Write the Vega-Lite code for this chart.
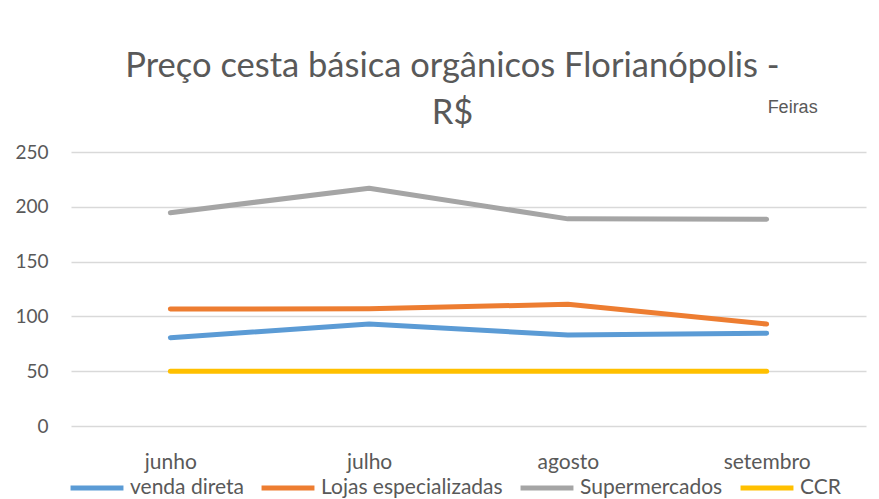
{
  "$schema": "https://vega.github.io/schema/vega-lite/v6.json",
  "autosize": "none",
  "width": 795,
  "height": 274,
  "padding": {"left": 71, "top": 152, "right": 13, "bottom": 73},
  "background": "white",
  "config": {
    "view": {"stroke": null},
    "font": "Lato"
  },
  "title": {
    "text": ["Preço cesta básica orgânicos Florianópolis -", "R$"],
    "font": "Lato",
    "fontSize": 34.5,
    "fontWeight": "normal",
    "color": "#595959",
    "lineHeight": 47,
    "anchor": "middle",
    "dx": -16,
    "dy": 58,
    "offset": 26
  },
  "datasets": {
    "prices": [
      {"mes": "junho", "serie": "venda direta", "preco": 80.6},
      {"mes": "julho", "serie": "venda direta", "preco": 93},
      {"mes": "agosto", "serie": "venda direta", "preco": 83},
      {"mes": "setembro", "serie": "venda direta", "preco": 84.6},
      {"mes": "junho", "serie": "Lojas especializadas", "preco": 106.7},
      {"mes": "julho", "serie": "Lojas especializadas", "preco": 107},
      {"mes": "agosto", "serie": "Lojas especializadas", "preco": 111},
      {"mes": "setembro", "serie": "Lojas especializadas", "preco": 93},
      {"mes": "junho", "serie": "Supermercados", "preco": 194.6},
      {"mes": "julho", "serie": "Supermercados", "preco": 217},
      {"mes": "agosto", "serie": "Supermercados", "preco": 189},
      {"mes": "setembro", "serie": "Supermercados", "preco": 188.6},
      {"mes": "junho", "serie": "CCR", "preco": 50},
      {"mes": "julho", "serie": "CCR", "preco": 50},
      {"mes": "agosto", "serie": "CCR", "preco": 50},
      {"mes": "setembro", "serie": "CCR", "preco": 50}
    ],
    "note": [{"mes": "setembro", "preco": 290, "label": "Feiras"}]
  },
  "layer": [
    {
      "data": {"name": "prices"},
      "mark": {"type": "line", "strokeWidth": 5, "strokeCap": "round", "strokeJoin": "round"},
      "encoding": {
        "x": {
          "field": "mes", "type": "nominal",
          "sort": ["junho", "julho", "agosto", "setembro"],
          "scale": {"paddingInner": 0, "paddingOuter": 0.5},
          "axis": {
            "title": null, "labelAngle": 0, "domain": false, "ticks": false,
            "labelFontSize": 21, "labelColor": "#595959", "labelPadding": 25,
            "labelFont": "Lato"
          }
        },
        "y": {
          "field": "preco", "type": "quantitative",
          "scale": {"domain": [0, 250]},
          "axis": {
            "title": null, "values": [0, 50, 100, 150, 200, 250],
            "domain": false, "ticks": false,
            "gridColor": "#D9D9D9", "gridWidth": 1.5,
            "labelFontSize": 19, "labelColor": "#595959", "labelPadding": 23,
            "labelFont": "Lato"
          }
        },
        "color": {
          "field": "serie", "type": "nominal",
          "scale": {
            "domain": ["venda direta", "Lojas especializadas", "Supermercados", "CCR"],
            "range": ["#5B9BD5", "#ED7D31", "#A5A5A5", "#FFC000"]
          },
          "legend": {
            "title": null, "orient": "none", "direction": "horizontal",
            "legendX": -3, "legendY": 307,
            "symbolType": "stroke", "symbolSize": 2800, "symbolStrokeWidth": 5,
            "labelFontSize": 21, "labelColor": "#595959", "labelOffset": 4,
            "labelLimit": 400,
            "columnPadding": 7, "labelFont": "Lato"
          }
        }
      }
    },
    {
      "data": {"name": "note"},
      "mark": {"type": "text", "dx": 26, "fontSize": 18, "color": "#595959", "font": "Liberation Sans", "clip": false},
      "encoding": {
        "x": {"field": "mes", "type": "nominal", "sort": ["junho", "julho", "agosto", "setembro"]},
        "y": {"field": "preco", "type": "quantitative", "scale": {"domain": [0, 250]}},
        "text": {"field": "label"}
      }
    }
  ]
}
